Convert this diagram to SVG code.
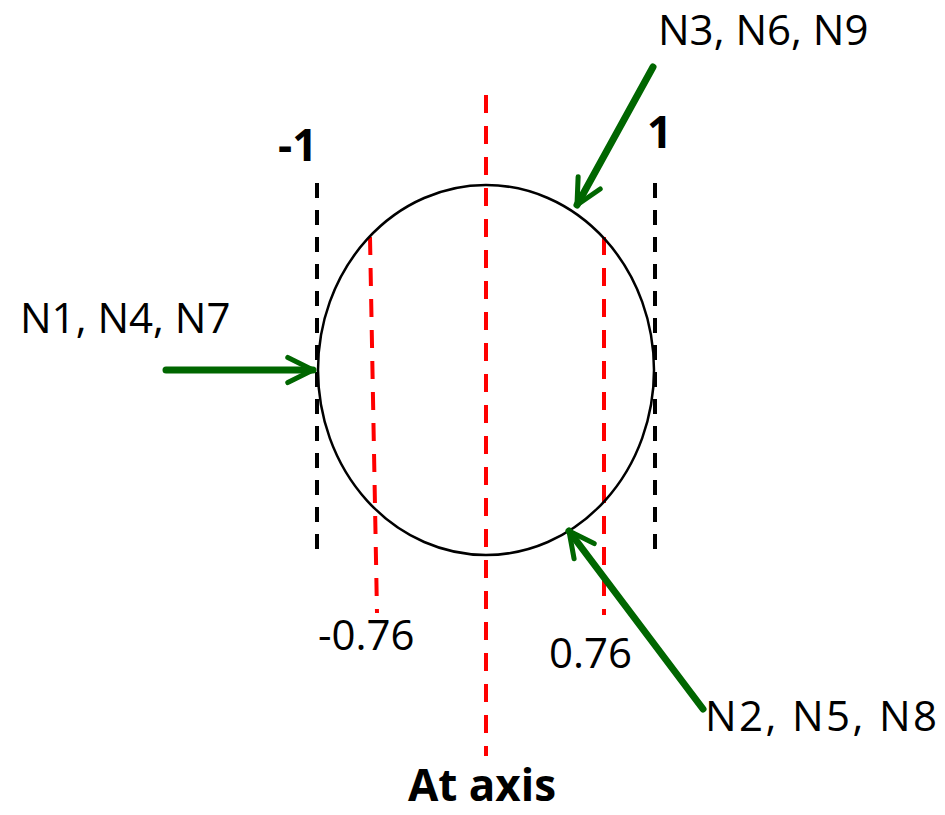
<svg xmlns="http://www.w3.org/2000/svg" width="945" height="815" viewBox="0 0 945 815">
<style>
text{font-family:"Open Sans","Noto Sans",sans-serif;font-size:42px;fill:#000}
.b{font-weight:bold;font-size:44px}
.blk{stroke:#000;stroke-width:4;stroke-dasharray:15 12;fill:none}
.red{stroke:#ff0000;stroke-width:4;stroke-dasharray:18 13;fill:none}
.arr{stroke:#006600;stroke-width:7;fill:none;stroke-linecap:round;marker-end:url(#ah)}
</style>
<defs>
<marker id="ah" viewBox="0 0 10 10" refX="9" refY="5" markerWidth="4.5" markerHeight="4.5" markerUnits="strokeWidth" orient="auto">
<path d="M1,1 L9,5 L1,9" fill="none" stroke="#006600" stroke-width="1.6" stroke-linecap="round" stroke-linejoin="round"/>
</marker>
</defs>
<rect width="945" height="815" fill="#fff"/>
<g id="guides">
<line class="blk" x1="317" y1="183" x2="317" y2="556"/>
<line class="blk" x1="655" y1="183" x2="655" y2="556"/>
<line class="red" x1="486" y1="95" x2="486" y2="756"/>
<line class="red" x1="370" y1="237" x2="377" y2="613"/>
<line class="red" x1="604" y1="237" x2="604" y2="615"/>
</g>
<g id="circle"><ellipse cx="486" cy="370" rx="168" ry="185" fill="none" stroke="#000" stroke-width="2.5"/></g>
<g id="connectors">
<line class="arr" x1="166" y1="370" x2="313" y2="370"/>
<line class="arr" x1="653" y1="67" x2="577" y2="205"/>
<line class="arr" x1="703" y1="709" x2="569" y2="531"/>
</g>
<g id="labels">
<text x="658" y="45">N3, N6, N9</text>
<text x="20" y="333">N1, N4, N7</text>
<text x="705" y="731" textLength="232">N2, N5, N8</text>
<text class="b" x="278" y="161">-1</text>
<text class="b" x="647" y="148">1</text>
<text x="318" y="650">-0.76</text>
<text x="549" y="668">0.76</text>
<text class="b" x="482" y="801" text-anchor="middle">At axis</text>
</g>
</svg>
